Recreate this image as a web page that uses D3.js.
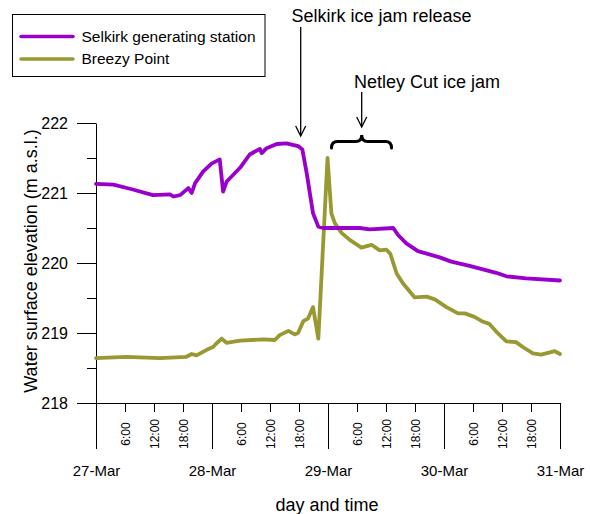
<!DOCTYPE html>
<html>
<head>
<meta charset="utf-8">
<script src="https://cdn.jsdelivr.net/npm/d3@7"></script>
<style>
  html, body { margin: 0; padding: 0; background: #fff; }
  svg { display: block; font-family: "Liberation Sans", Arial, sans-serif; }
</style>
</head>
<body>
<svg id="chart" width="590" height="514"></svg>
<script>
// Hours since 27-Mar 00:00 and water level (m a.s.l.) for each gauge
const selkirkHours = [0, 3.6, 7.6, 11.8, 15.3, 16.0, 17.4, 19.1, 19.8, 20.5,
  22.2, 23.9, 25.6, 26.3, 27.0, 29.8, 31.8, 33.9, 34.3, 35.3,
  37.4, 39.4, 41.8, 42.7, 43.6, 44.9, 46.0, 47.0, 54.6, 56.6,
  61.5, 62.5, 64.2, 66.6, 71.1, 73.5, 77.3, 82.8, 84.9, 89.0, 96];
const selkirkLevel = [221.13, 221.12, 221.05, 220.97, 220.98, 220.95, 220.97, 221.07, 221.00, 221.14,
  221.31, 221.42, 221.48, 221.02, 221.16, 221.36, 221.55, 221.63, 221.57, 221.64,
  221.70, 221.71, 221.67, 221.62, 221.28, 220.71, 220.52, 220.50, 220.50, 220.48,
  220.50, 220.40, 220.28, 220.17, 220.08, 220.02, 219.96, 219.86, 219.81, 219.78, 219.75];

const breezyHours = [0, 6.3, 13.2, 18.7, 19.8, 20.8, 22.9, 24.2, 24.9, 26.0,
  27.0, 29.8, 34.6, 37.0, 38.0, 39.8, 41.1, 41.8, 42.9, 43.9,
  44.9, 46.0, 47.9, 48.7, 49.4, 50.8, 52.5, 54.9, 57.0, 58.7,
  60.1, 60.9, 62.2, 63.5, 65.9, 68.4, 70.1, 72.5, 74.9, 76.3,
  78.3, 80.1, 81.4, 82.8, 84.9, 86.9, 88.3, 90.4, 92.1, 94.9, 96];
const breezyLevel = [218.64, 218.66, 218.64, 218.66, 218.70, 218.68, 218.76, 218.80, 218.85, 218.92,
  218.86, 218.89, 218.91, 218.90, 218.97, 219.03, 218.98, 219.00, 219.17, 219.21,
  219.37, 218.92, 221.50, 220.71, 220.57, 220.43, 220.33, 220.22, 220.26, 220.18,
  220.19, 220.13, 219.85, 219.71, 219.51, 219.52, 219.48, 219.37, 219.28, 219.28,
  219.23, 219.16, 219.13, 219.02, 218.88, 218.87, 218.80, 218.71, 218.69, 218.74, 218.70];

// Axis ticks
const dayHours = [0, 24, 48, 72, 96];
const dayLabels = ["27-Mar", "28-Mar", "29-Mar", "30-Mar", "31-Mar"];
const hourTicks = [6, 12, 18, 30, 36, 42, 54, 60, 66, 78, 84, 90];
const hourLabels = ["6:00", "12:00", "18:00", "6:00", "12:00", "18:00",
  "6:00", "12:00", "18:00", "6:00", "12:00", "18:00"];
const levelMajor = [218, 219, 220, 221, 222];
const levelMinor = [218.5, 219.5, 220.5, 221.5];

const seriesNames = ["Selkirk generating station", "Breezy Point"];
const seriesColors = ["#9900cc", "#999933"];

const svg = d3.select("#chart");
const x = d3.scaleLinear().domain([0, 96]).range([96, 560]);
const y = d3.scaleLinear().domain([218, 222]).range([403, 123]);

// Y axis: major and half-metre minor ticks
const yMajor = svg.append("g").attr("transform", "translate(96,0)")
  .call(d3.axisLeft(y).tickValues(levelMajor).tickSize(19).tickSizeOuter(0).tickPadding(9).tickFormat(d3.format("d")));
svg.append("g").attr("transform", "translate(96,0)")
  .call(d3.axisLeft(y).tickValues(levelMinor).tickSize(9).tickSizeOuter(0).tickFormat(""))
  .call(g => g.select(".domain").remove());
yMajor.selectAll("text").attr("font-size", 16).attr("fill", "#000");

// X axis: long day ticks with dates, short hour ticks with rotated times
const xDays = svg.append("g").attr("transform", "translate(0,403)")
  .call(d3.axisBottom(x).tickValues(dayHours).tickSize(46).tickSizeOuter(0).tickPadding(16)
    .tickFormat((d, i) => dayLabels[i]));
xDays.selectAll("text").attr("font-size", 15).attr("fill", "#000");

const xHours = svg.append("g").attr("transform", "translate(0,403)")
  .call(d3.axisBottom(x).tickValues(hourTicks).tickSize(9).tickSizeOuter(0)
    .tickFormat((d, i) => hourLabels[i]))
  .call(g => g.select(".domain").remove());
xHours.selectAll("text")
  .attr("font-size", 12).attr("fill", "#000")
  .attr("y", 0).attr("dy", "0.35em")
  .attr("text-anchor", "middle")
  .attr("transform", "translate(0,31) rotate(-90)");

svg.selectAll(".domain, .tick line").attr("stroke", "#000");

// Axis titles
svg.append("text").attr("x", 327).attr("y", 511).attr("text-anchor", "middle")
  .attr("font-size", 18).text("day and time");
svg.append("text").attr("transform", "translate(37,261) rotate(-90)").attr("text-anchor", "middle")
  .attr("font-size", 18).text("Water surface elevation (m a.s.l.)");

// Series lines
const line = d3.line().x(d => x(d[0])).y(d => y(d[1]));
const series = [
  d3.zip(selkirkHours, selkirkLevel),
  d3.zip(breezyHours, breezyLevel)
];
svg.append("path").datum(series[1]).attr("d", line)
  .attr("fill", "none").attr("stroke", seriesColors[1]).attr("stroke-width", 3.8)
  .attr("stroke-linejoin", "round").attr("stroke-linecap", "round");
svg.append("path").datum(series[0]).attr("d", line)
  .attr("fill", "none").attr("stroke", seriesColors[0]).attr("stroke-width", 3.8)
  .attr("stroke-linejoin", "round").attr("stroke-linecap", "round");

// Legend
const legend = svg.append("g");
legend.append("rect").attr("x", 12.5).attr("y", 14.5).attr("width", 252.5).attr("height", 62)
  .attr("fill", "#fff").attr("stroke", "#000").attr("stroke-width", 1);
seriesNames.forEach((name, i) => {
  const ly = 36.5 + i * 22.5;
  legend.append("line").attr("x1", 21).attr("x2", 73).attr("y1", ly).attr("y2", ly)
    .attr("stroke", seriesColors[i]).attr("stroke-width", 3.5).attr("stroke-linecap", "round");
  legend.append("text").attr("x", 81.5).attr("y", ly).attr("dy", "0.35em")
    .attr("font-size", 15.5).text(name);
});

// Annotations
function arrow(ax, y0, y1) {
  svg.append("line").attr("x1", ax).attr("x2", ax).attr("y1", y0).attr("y2", y1)
    .attr("stroke", "#000").attr("stroke-width", 1.3);
  svg.append("path").attr("d", `M${ax - 5},${y1 - 10}L${ax},${y1}L${ax + 5},${y1 - 10}`)
    .attr("fill", "none").attr("stroke", "#000").attr("stroke-width", 1.3);
}
svg.append("text").attr("x", 291.5).attr("y", 22).attr("font-size", 18).text("Selkirk ice jam release");
arrow(300.7, 27, 136);
svg.append("text").attr("x", 354).attr("y", 88).attr("font-size", 18).text("Netley Cut ice jam");
arrow(361.7, 92, 127);

// Curly brace spanning the ice-jam period
const bx0 = 331.5, bx1 = 391.5, bm = 361.7, bTop = 135, bMid = 141.5, bBot = 148;
svg.append("path")
  .attr("d", `M${bx0},${bBot} Q${bx0},${bMid} ${bx0 + 6},${bMid} L${bm - 6},${bMid} Q${bm},${bMid} ${bm},${bTop}` +
    ` Q${bm},${bMid} ${bm + 6},${bMid} L${bx1 - 6},${bMid} Q${bx1},${bMid} ${bx1},${bBot}`)
  .attr("fill", "none").attr("stroke", "#000").attr("stroke-width", 3).attr("stroke-linecap", "round");
</script>
</body>
</html>
